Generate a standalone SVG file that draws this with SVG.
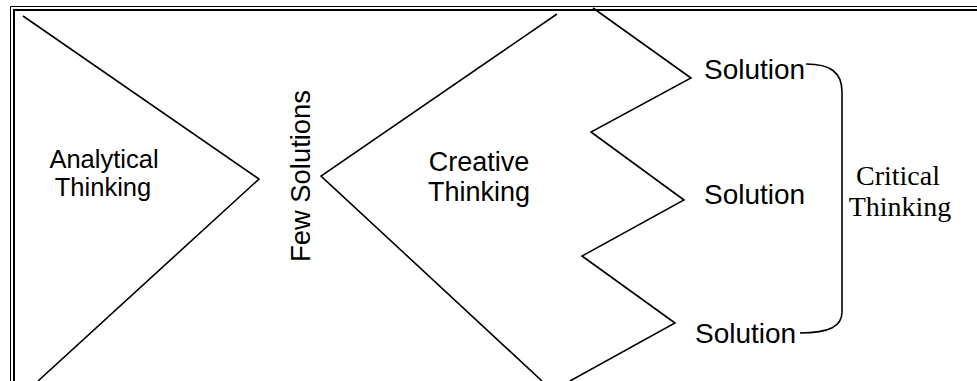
<svg xmlns="http://www.w3.org/2000/svg" width="977" height="381" viewBox="0 0 977 381">
<style>
.ln{fill:none;stroke:#000;stroke-width:1.6;stroke-linejoin:miter}
.sans{font-family:"Liberation Sans",Arial,sans-serif;fill:#000}
.serif{font-family:"Liberation Serif","Times New Roman",serif;fill:#000}
</style>
<rect x="0" y="0" width="977" height="381" fill="#fff"/>
<g id="frame">
<path d="M977,6.5 H10.5 V381" fill="none" stroke="#000" stroke-width="1"/>
<path d="M977,10 H14 V381" fill="none" stroke="#000" stroke-width="2"/>
</g>
<g id="analytical">
<path class="ln" d="M23,16 L259,179 L38,381"/>
<text class="sans" font-size="25.5" text-anchor="middle" x="104" y="168">Analytical</text>
<text class="sans" font-size="25.5" text-anchor="middle" x="103" y="196">Thinking</text>
</g>
<g id="few-solutions">
<text class="sans" font-size="27.4" text-anchor="middle" transform="translate(310,176) rotate(-90)">Few Solutions</text>
</g>
<g id="creative">
<path class="ln" d="M557,14 L321,176 L542,381"/>
<path class="ln" d="M593,8 L691,78 L591,132 L684,200 L582,256 L675,323 L570,381"/>
<text class="sans" font-size="27" text-anchor="middle" x="479" y="171">Creative</text>
<text class="sans" font-size="27" text-anchor="middle" x="479" y="201">Thinking</text>
</g>
<g id="solution1"><text class="sans" font-size="28" x="704" y="79">Solution</text></g>
<g id="solution2"><text class="sans" font-size="28" x="704" y="204">Solution</text></g>
<g id="solution3"><text class="sans" font-size="28" x="695" y="343">Solution</text></g>
<g id="connectors">
<path class="ln" d="M806,64 C830,64 842,72 842,92 V312 C842,326 830,333 800,333"/>
</g>
<g id="critical">
<text class="serif" font-size="28" text-anchor="middle" x="898" y="185">Critical</text>
<text class="serif" font-size="28" text-anchor="middle" x="900" y="216">Thinking</text>
</g>
</svg>
